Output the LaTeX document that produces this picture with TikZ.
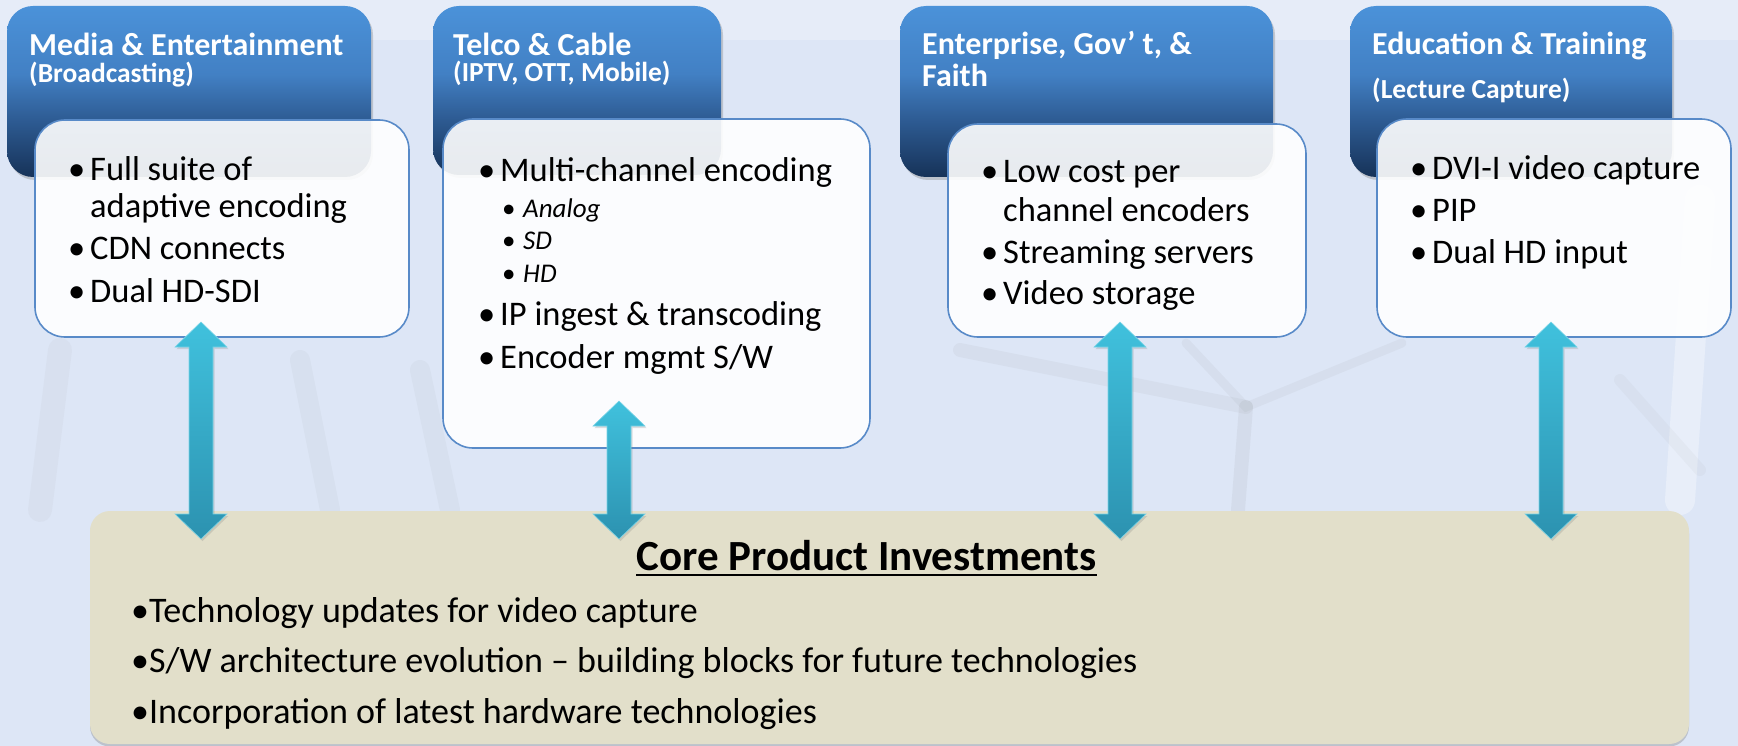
\documentclass[tikz,border=0pt]{standalone}
\usepackage{fontspec}
\setmainfont{Carlito}
\usetikzlibrary{shadows,calc}
\definecolor{bgblue}{RGB}{221,230,246}
\definecolor{bglight}{RGB}{236,241,250}
\definecolor{hdtop}{RGB}{75,146,217}
\definecolor{hdmidA}{RGB}{66,128,196}
\definecolor{hdmidB}{RGB}{46,92,148}
\definecolor{hdbot}{RGB}{22,50,88}
\definecolor{wbord}{RGB}{88,138,200}
\definecolor{beige}{RGB}{226,223,202}
\definecolor{arrtop}{RGB}{64,193,221}
\definecolor{arrbot}{RGB}{44,146,176}
\pgfdeclareverticalshading{hdshade}{100bp}{color(0bp)=(hdbot); color(25bp)=(hdbot); color(42bp)=(hdmidB); color(55bp)=(hdmidA); color(75bp)=(hdtop); color(100bp)=(hdtop)}
\tikzset{
  header/.style={rounded corners=26pt, shading=hdshade, inner sep=0pt,
    drop shadow={opacity=0.35, shadow xshift=2pt, shadow yshift=-3pt}},
  wbox/.style={rounded corners=30pt, fill=white, fill opacity=0.9, draw=wbord, line width=1.6pt, inner sep=0pt},
  corebox/.style={rounded corners=20pt, fill=beige, inner sep=0pt,
    drop shadow={opacity=0.35, shadow xshift=0pt, shadow yshift=-2.5pt}},
  htitle/.style={anchor=base west, inner sep=0pt, text=white, font=\fontsize{32}{38}\selectfont\bfseries},
  hsub/.style={anchor=base west, inner sep=0pt, text=white, font=\fontsize{27.5}{33}\selectfont\bfseries},
  body/.style={anchor=base west, inner sep=0pt, text=black, font=\fontsize{34.5}{40}\selectfont},
  subitem/.style={anchor=base west, inner sep=0pt, text=black, font=\fontsize{27}{32}\selectfont\itshape},
  corehead/.style={anchor=base, inner sep=0pt, text=black, font=\fontsize{43}{50}\selectfont\bfseries},
  coreline/.style={anchor=base west, inner sep=0pt, text=black, font=\fontsize{36}{42}\selectfont},
  arrowfill/.style={top color=arrtop, bottom color=arrbot, draw=arrtop!70!white, line width=0.6pt,
    drop shadow={opacity=0.25, shadow xshift=1.5pt, shadow yshift=-2pt}},
  bgstroke/.style={gray, line cap=round},
}
\newcommand\bul{\makebox[22pt][l]{•}}
\newcommand\biarrow[2]{%
  \shade[arrowfill] let \p1=(#1), \p2=(#2) in
    (\x1,\y1) -- (\x1+26pt,\y1-25pt) -- (\x1+12pt,\y1-25pt) -- (\x1+12pt,\y2+25pt)
    -- (\x1+26pt,\y2+25pt) -- (\x2,\y2) -- (\x1-26pt,\y2+25pt) -- (\x1-12pt,\y2+25pt)
    -- (\x1-12pt,\y1-25pt) -- (\x1-26pt,\y1-25pt) -- cycle;}
\begin{document}
\begin{tikzpicture}[x=1pt,y=-1pt]
\useasboundingbox (0,0) rectangle (1738,746);
% background
\fill[bgblue] (0,0) rectangle (1738,746);
\fill[bglight, opacity=0.6] (0,0) rectangle (1738,40);
\draw[bgstroke, opacity=0.07, line width=14pt] (960,350) -- (1246,407);
\draw[bgstroke, opacity=0.07, line width=9pt] (1186,343) -- (1246,407) -- (1402,343);
\draw[bgstroke, opacity=0.09, line width=14pt] (1246,407) -- (1238,510);
\draw[bgstroke, opacity=0.06, line width=20pt] (300,360) -- (330,510);
\draw[bgstroke, opacity=0.06, line width=20pt] (420,370) -- (450,510);
\draw[bgstroke, opacity=0.05, line width=24pt] (60,350) -- (40,510);
\draw[white, opacity=0.35, line width=30pt, line cap=round] (1700,200) -- (1680,500);
\draw[bgstroke, opacity=0.05, line width=12pt] (1620,380) -- (1700,470);

% header boxes
\node[header, minimum width=364pt, minimum height=171pt] (h1) at (189,91.5) {};
\node[header, minimum width=288pt, minimum height=169pt] (h2) at (577,90.5) {};
\node[header, minimum width=373pt, minimum height=171pt] (h3) at (1086.5,91.5) {};
\node[header, minimum width=322pt, minimum height=171pt] (h4) at (1511,91.5) {};

\node[htitle] (t1a) at (29,56) {Media \& Entertainment};
\node[hsub]   (t1b) at (29,83) {(Broadcasting)};
\node[htitle] (t2a) at (453,56) {Telco \& Cable};
\node[hsub]   (t2b) at (453,82) {(IPTV, OTT, Mobile)};
\node[htitle] (t3a) at (922,55) {Enterprise, Gov’ t, \&};
\node[htitle] (t3b) at (922,87) {Faith};
\node[htitle] (t4a) at (1372,55) {Education \& Training};
\node[hsub]   (t4b) at (1372,99) {(Lecture Capture)};

% white boxes
\node[wbox, minimum width=374pt, minimum height=217pt] (w1) at (222,228.5) {};
\node[wbox, minimum width=427pt, minimum height=329pt] (w2) at (656.5,283.5) {};
\node[wbox, minimum width=358pt, minimum height=213pt] (w3) at (1127,230.5) {};
\node[wbox, minimum width=354pt, minimum height=218pt] (w4) at (1554,228) {};

% box 1 text
\node[body] (b1a) at (68,181) {\bul Full suite of};
\node[body] (b1b) at (90,218) {adaptive encoding};
\node[body] (b1c) at (68,260) {\bul CDN connects};
\node[body] (b1d) at (68,302) {\bul Dual HD-SDI};
% box 2 text
\node[body] (b2a) at (478,182) {\bul Multi-channel encoding};
\node[subitem] (b2b) at (502,218) {\makebox[21pt][l]{\upshape•}Analog};
\node[subitem] (b2c) at (502,250) {\makebox[21pt][l]{\upshape•}SD};
\node[subitem] (b2d) at (502,283) {\makebox[21pt][l]{\upshape•}HD};
\node[body] (b2e) at (478,325) {\bul IP ingest \& transcoding};
\node[body] (b2f) at (478,368) {\bul Encoder mgmt S/W};
% box 3 text
\node[body] (b3a) at (981,183) {\bul Low cost per};
\node[body] (b3b) at (1003,222) {channel encoders};
\node[body] (b3c) at (981,263) {\bul Streaming servers};
\node[body] (b3d) at (981,305) {\bul Video storage};
% box 4 text
\node[body] (b4a) at (1410,180) {\bul DVI-I video capture};
\node[body] (b4b) at (1410,222) {\bul PIP};
\node[body] (b4c) at (1410,264) {\bul Dual HD input};

% core box
\node[corebox, minimum width=1599pt, minimum height=233pt] (core) at (889.5,627.5) {};
\node[corehead] (chead) at (866.5,570) {Core Product Investments};
\draw[black, line width=2.8pt] ([yshift=-5pt]chead.base west) -- ([yshift=-5pt]chead.base east);
\node[coreline] (c1) at (131,622) {•Technology updates for video capture};
\node[coreline] (c2) at (131,672) {•S/W architecture evolution – building blocks for future technologies};
\node[coreline] (c3) at (131,723) {•Incorporation of latest hardware technologies};

% arrows
\coordinate (a1t) at (201,322);  \coordinate (a1b) at (201,539);
\coordinate (a2t) at (619,401);  \coordinate (a2b) at (619,539);
\coordinate (a3t) at (1120,322); \coordinate (a3b) at (1120,539);
\coordinate (a4t) at (1551,322); \coordinate (a4b) at (1551,539);
\biarrow{a1t}{a1b}
\biarrow{a2t}{a2b}
\biarrow{a3t}{a3b}
\biarrow{a4t}{a4b}
\end{tikzpicture}
\end{document}
